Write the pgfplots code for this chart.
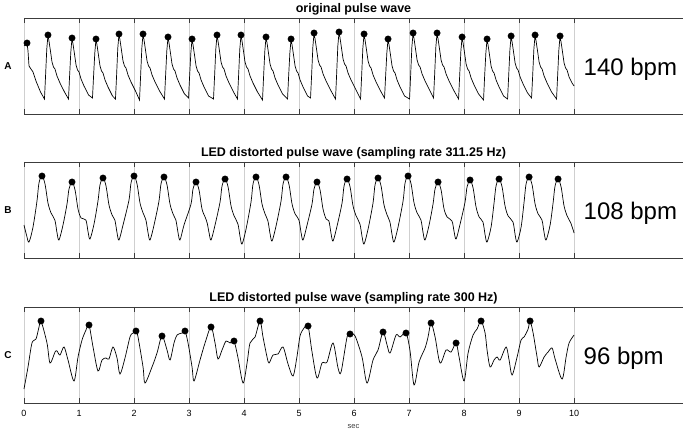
\documentclass[border=0pt]{standalone}
\usepackage{fontspec}
\setmainfont{Liberation Sans}
\usepackage{pgfplots}
\pgfplotsset{compat=1.18}
\definecolor{axgray}{HTML}{3C3C3C}
\definecolor{gridgray}{HTML}{CFCFCF}
\pgfplotsset{
 panel/.style={
  scale only axis, width=659pt, height=96pt, anchor=south west,
  xmin=0, xmax=11.98, ymin=0, ymax=96,
  separate axis lines, axis x line=box, axis y line=none,
  ytick=\empty, xtick={0,1,...,10},
  xmajorgrids, major grid style={gridgray, line width=0.5pt},
  axis line style={axgray, line width=0.9pt},
  major tick length=5pt, tick style={axgray, line width=0.8pt},
  tick align=inside,
  every axis title shift=0pt,
  title style={font=\bfseries\fontsize{12.5}{14}\selectfont, at={(0.5,1)}, anchor=base, yshift=5pt},
  clip=false,
 },
 wave/.style={black, line width=0.7pt, no markers},
 pk/.style={only marks, mark=*, mark size=3.2pt, black},
}
\tikzset{bpm/.style={anchor=base west, font=\fontsize{24}{28}\selectfont}}
\begin{document}
\begin{tikzpicture}
\useasboundingbox (0pt,0pt) rectangle (685pt,-434pt);
\begin{axis}[panel, at={(24pt,-114pt)}, title={original pulse wave}, xticklabels={}]
\addplot[wave] coordinates {
(0,68) (0.055,71) (0.073,63) (0.091,48) (0.127,45) (0.164,42) (0.218,33) (0.3,22)
(0.372,15) (0.391,37) (0.414,65) (0.436,79) (0.454,73) (0.478,64) (0.509,52) (0.536,47) (0.563,45) (0.600,38) (0.654,31) (0.736,22)
(0.809,15) (0.828,37) (0.851,62) (0.873,76) (0.891,70) (0.915,61) (0.946,49) (0.973,44) (1.000,42) (1.037,35) (1.091,28) (1.173,19)
(1.245,16) (1.264,37) (1.287,61) (1.309,75) (1.327,69) (1.351,60) (1.382,48) (1.409,43) (1.436,41) (1.473,34) (1.527,27) (1.609,18)
(1.663,15) (1.682,37) (1.705,66) (1.727,80) (1.745,74) (1.769,65) (1.800,53) (1.827,48) (1.854,46) (1.891,39) (1.945,32) (2.027,23)
(2.100,14) (2.119,37) (2.142,66) (2.164,80) (2.182,74) (2.206,65) (2.237,53) (2.264,48) (2.291,46) (2.328,39) (2.382,32) (2.464,23)
(2.554,15) (2.573,37) (2.596,63) (2.618,77) (2.636,71) (2.660,62) (2.691,50) (2.718,45) (2.745,43) (2.782,36) (2.836,29) (2.918,20)
(2.991,16) (3.010,37) (3.033,61) (3.055,75) (3.073,69) (3.097,60) (3.128,48) (3.155,43) (3.182,41) (3.219,34) (3.273,27) (3.355,18)
(3.445,15) (3.464,37) (3.487,65) (3.509,79) (3.527,73) (3.551,64) (3.582,52) (3.609,47) (3.636,45) (3.673,38) (3.727,31) (3.809,22)
(3.881,15) (3.900,37) (3.923,65) (3.945,79) (3.963,73) (3.987,64) (4.018,52) (4.045,47) (4.072,45) (4.109,38) (4.163,31) (4.245,22)
(4.336,14) (4.355,37) (4.378,63) (4.400,77) (4.418,71) (4.442,62) (4.473,50) (4.500,45) (4.527,43) (4.564,36) (4.618,29) (4.700,20)
(4.791,15) (4.810,37) (4.833,61) (4.855,75) (4.873,69) (4.897,60) (4.928,48) (4.955,43) (4.982,41) (5.019,34) (5.073,27) (5.155,18)
(5.209,16) (5.228,38) (5.251,67) (5.273,81) (5.291,75) (5.315,66) (5.346,54) (5.373,49) (5.400,47) (5.437,40) (5.491,33) (5.573,24)
(5.663,15) (5.682,38) (5.705,68) (5.727,82) (5.745,76) (5.769,67) (5.800,55) (5.827,50) (5.854,48) (5.891,41) (5.945,34) (6.027,25)
(6.118,15) (6.137,37) (6.160,66) (6.182,80) (6.200,74) (6.224,65) (6.255,53) (6.282,48) (6.309,46) (6.346,39) (6.400,32) (6.482,23)
(6.554,16) (6.573,37) (6.596,61) (6.618,75) (6.636,69) (6.660,60) (6.691,48) (6.718,43) (6.745,41) (6.782,34) (6.836,27) (6.918,18)
(7.009,15) (7.028,38) (7.051,67) (7.073,81) (7.091,75) (7.115,66) (7.146,54) (7.173,49) (7.200,47) (7.237,40) (7.291,33) (7.373,24)
(7.445,16) (7.464,38) (7.487,67) (7.509,81) (7.527,75) (7.551,66) (7.582,54) (7.609,49) (7.636,47) (7.673,40) (7.727,33) (7.809,24)
(7.900,15) (7.919,37) (7.942,63) (7.964,77) (7.982,71) (8.006,62) (8.037,50) (8.064,45) (8.091,43) (8.128,36) (8.182,29) (8.264,20)
(8.354,14) (8.373,37) (8.396,61) (8.418,75) (8.436,69) (8.460,60) (8.491,48) (8.518,43) (8.545,41) (8.582,34) (8.636,27) (8.718,18)
(8.791,15) (8.810,37) (8.833,64) (8.855,78) (8.873,72) (8.897,63) (8.928,51) (8.955,46) (8.982,44) (9.019,37) (9.073,30) (9.155,21)
(9.227,16) (9.246,37) (9.269,65) (9.291,79) (9.309,73) (9.333,64) (9.364,52) (9.391,47) (9.418,45) (9.455,38) (9.509,31) (9.591,22)
(9.681,15) (9.700,37) (9.723,64) (9.745,78) (9.763,72) (9.787,63) (9.818,51) (9.845,46) (9.872,44) (9.909,37) (9.963,31) (10.0,28)
};
\addplot[pk] coordinates {(0.055,71) (0.436,79) (0.873,76) (1.309,75) (1.727,80) (2.164,80) (2.618,77) (3.055,75) (3.509,79) (3.945,79) (4.400,77) (4.855,75) (5.273,81) (5.727,82) (6.182,80) (6.618,75) (7.073,81) (7.509,81) (7.964,77) (8.418,75) (8.855,78) (9.291,79) (9.745,78)};
\node[bpm] at (axis cs:10.11,39) {140 bpm};
\end{axis}
\begin{axis}[panel, at={(24pt,-258pt)}, title={LED distorted pulse wave (sampling rate 311.25 Hz)}, xticklabels={}]
\addplot[wave, smooth] coordinates {
(0,33) (0.05,22) (0.091,16)
(0.164,31) (0.236,57) (0.272,75) (0.327,82) (0.382,74) (0.436,55) (0.492,45) (0.561,38) (0.601,25) (0.636,18)
(0.709,33) (0.782,54) (0.818,69) (0.873,76) (0.928,68) (0.982,49) (1.038,40) (1.125,38) (1.165,26) (1.200,19)
(1.273,34) (1.345,57) (1.381,73) (1.436,80) (1.491,72) (1.545,53) (1.601,43) (1.652,38) (1.692,25) (1.727,18)
(1.800,33) (1.909,58) (1.945,75) (2.000,82) (2.055,74) (2.109,55) (2.165,45) (2.216,38) (2.256,25) (2.291,18)
(2.364,33) (2.454,57) (2.490,74) (2.545,81) (2.600,73) (2.654,54) (2.710,44) (2.761,38) (2.801,25) (2.836,18)
(2.909,33) (3.036,54) (3.072,69) (3.127,76) (3.182,68) (3.236,49) (3.292,41) (3.330,35) (3.365,25) (3.400,18)
(3.473,33) (3.564,56) (3.600,72) (3.655,79) (3.710,71) (3.764,52) (3.820,42) (3.889,34) (3.929,21) (3.964,14)
(4.037,29) (4.127,56) (4.163,74) (4.218,81) (4.273,73) (4.327,54) (4.383,44) (4.434,37) (4.474,24) (4.509,17)
(4.582,32) (4.673,57) (4.709,74) (4.764,81) (4.819,73) (4.873,54) (4.929,44) (4.998,38) (5.038,25) (5.073,18)
(5.146,33) (5.236,54) (5.272,69) (5.327,76) (5.382,68) (5.436,49) (5.492,39) (5.543,37) (5.583,24) (5.618,17)
(5.691,32) (5.782,55) (5.818,72) (5.873,79) (5.928,71) (5.982,52) (6.038,42) (6.107,34) (6.147,21) (6.182,14)
(6.255,29) (6.345,55) (6.381,73) (6.436,80) (6.491,72) (6.545,53) (6.601,43) (6.652,36) (6.692,23) (6.727,16)
(6.800,31) (6.891,57) (6.927,75) (6.982,82) (7.037,74) (7.091,55) (7.147,45) (7.216,38) (7.256,25) (7.291,18)
(7.364,33) (7.436,54) (7.472,69) (7.527,76) (7.582,68) (7.636,49) (7.692,41) (7.780,37) (7.820,26) (7.855,19)
(7.928,34) (8.018,56) (8.054,71) (8.109,78) (8.164,70) (8.218,51) (8.274,41) (8.343,36) (8.383,23) (8.418,16)
(8.491,31) (8.545,55) (8.581,72) (8.636,79) (8.691,71) (8.745,52) (8.801,42) (8.889,36) (8.929,23) (8.964,16)
(9.037,31) (9.091,56) (9.127,74) (9.182,81) (9.237,73) (9.291,54) (9.347,44) (9.416,38) (9.456,25) (9.491,18)
(9.564,33) (9.618,55) (9.654,72) (9.709,79) (9.764,71) (9.818,52) (9.874,42) (9.94,35) (10.0,25)
};
\addplot[pk] coordinates {(0.327,82) (0.873,76) (1.436,80) (2.000,82) (2.545,81) (3.127,76) (3.655,79) (4.218,81) (4.764,81) (5.327,76) (5.873,79) (6.436,80) (6.982,82) (7.527,76) (8.109,78) (8.636,79) (9.182,81) (9.709,79)};
\node[bpm] at (axis cs:10.11,39) {108 bpm};
\end{axis}
\begin{axis}[panel, at={(24pt,-403pt)}, title={LED distorted pulse wave (sampling rate 300 Hz)},
  xticklabel style={font=\fontsize{9}{10}\selectfont, text=black, yshift=-3.5pt},
  /pgf/number format/assume math mode=true,
  xlabel={sec}, xlabel style={font=\fontsize{7.5}{9}\selectfont, text=axgray, at={(0.5,0)}, anchor=base, yshift=-25pt}]
\addplot[wave, smooth] coordinates {
(0.000,14) (0.073,36) (0.145,60) (0.218,64) (0.273,76) (0.309,82) (0.418,60) (0.473,40) (0.564,51) (0.600,52) (0.655,48) (0.727,56) (0.800,43) (0.909,22) (0.982,46) (1.055,63) (1.127,73) (1.182,78) (1.255,56) (1.345,32) (1.418,43) (1.491,45) (1.545,44) (1.618,56) (1.691,45) (1.745,29) (1.836,45) (1.927,66) (1.982,70) (2.036,72) (2.073,66) (2.164,36) (2.200,20) (2.327,36) (2.418,50) (2.509,67) (2.600,53) (2.655,43) (2.727,60) (2.782,68) (2.873,70) (2.927,72) (2.982,60) (3.055,36) (3.091,22) (3.200,43) (3.291,60) (3.400,76) (3.473,60) (3.527,44) (3.600,53) (3.673,62) (3.745,60) (3.818,62) (3.891,45) (3.982,20) (4.055,40) (4.109,60) (4.200,66) (4.291,82) (4.345,66) (4.418,46) (4.455,40) (4.527,48) (4.618,49) (4.709,56) (4.800,39) (4.891,27) (4.964,47) (5.018,67) (5.091,75) (5.164,77) (5.236,51) (5.327,25) (5.418,40) (5.509,41) (5.618,60) (5.709,35) (5.764,31) (5.873,66) (5.927,69) (6.018,67) (6.145,46) (6.236,20) (6.345,43) (6.436,53) (6.527,71) (6.600,58) (6.655,50) (6.764,68) (6.836,66) (6.945,70) (7.018,52) (7.091,18) (7.182,41) (7.291,55) (7.345,66) (7.400,80) (7.473,66) (7.564,40) (7.673,53) (7.764,51) (7.855,60) (7.909,46) (8.000,22) (8.073,50) (8.164,68) (8.236,74) (8.309,82) (8.382,70) (8.418,53) (8.473,36) (8.545,43) (8.600,46) (8.655,43) (8.764,56) (8.818,43) (8.873,28) (8.964,46) (9.036,63) (9.091,66) (9.164,74) (9.200,82) (9.255,70) (9.327,46) (9.364,36) (9.455,46) (9.527,51) (9.600,55) (9.655,44) (9.782,24) (9.855,46) (9.909,60) (10.0,68)
};
\addplot[pk] coordinates {(0.309,82) (1.182,78) (2.036,72) (2.509,67) (2.927,72) (3.400,76) (3.818,62) (4.291,82) (5.164,77) (5.927,69) (6.527,71) (6.945,70) (7.400,80) (7.855,60) (8.309,82) (9.200,82)};
\node[bpm] at (axis cs:10.11,39) {96 bpm};
\end{axis}
\node[font=\bfseries\fontsize{10}{12}\selectfont] at (8pt,-66pt) {A};
\node[font=\bfseries\fontsize{10}{12}\selectfont] at (8pt,-210pt) {B};
\node[font=\bfseries\fontsize{10}{12}\selectfont] at (8pt,-355pt) {C};
\end{tikzpicture}
\end{document}
